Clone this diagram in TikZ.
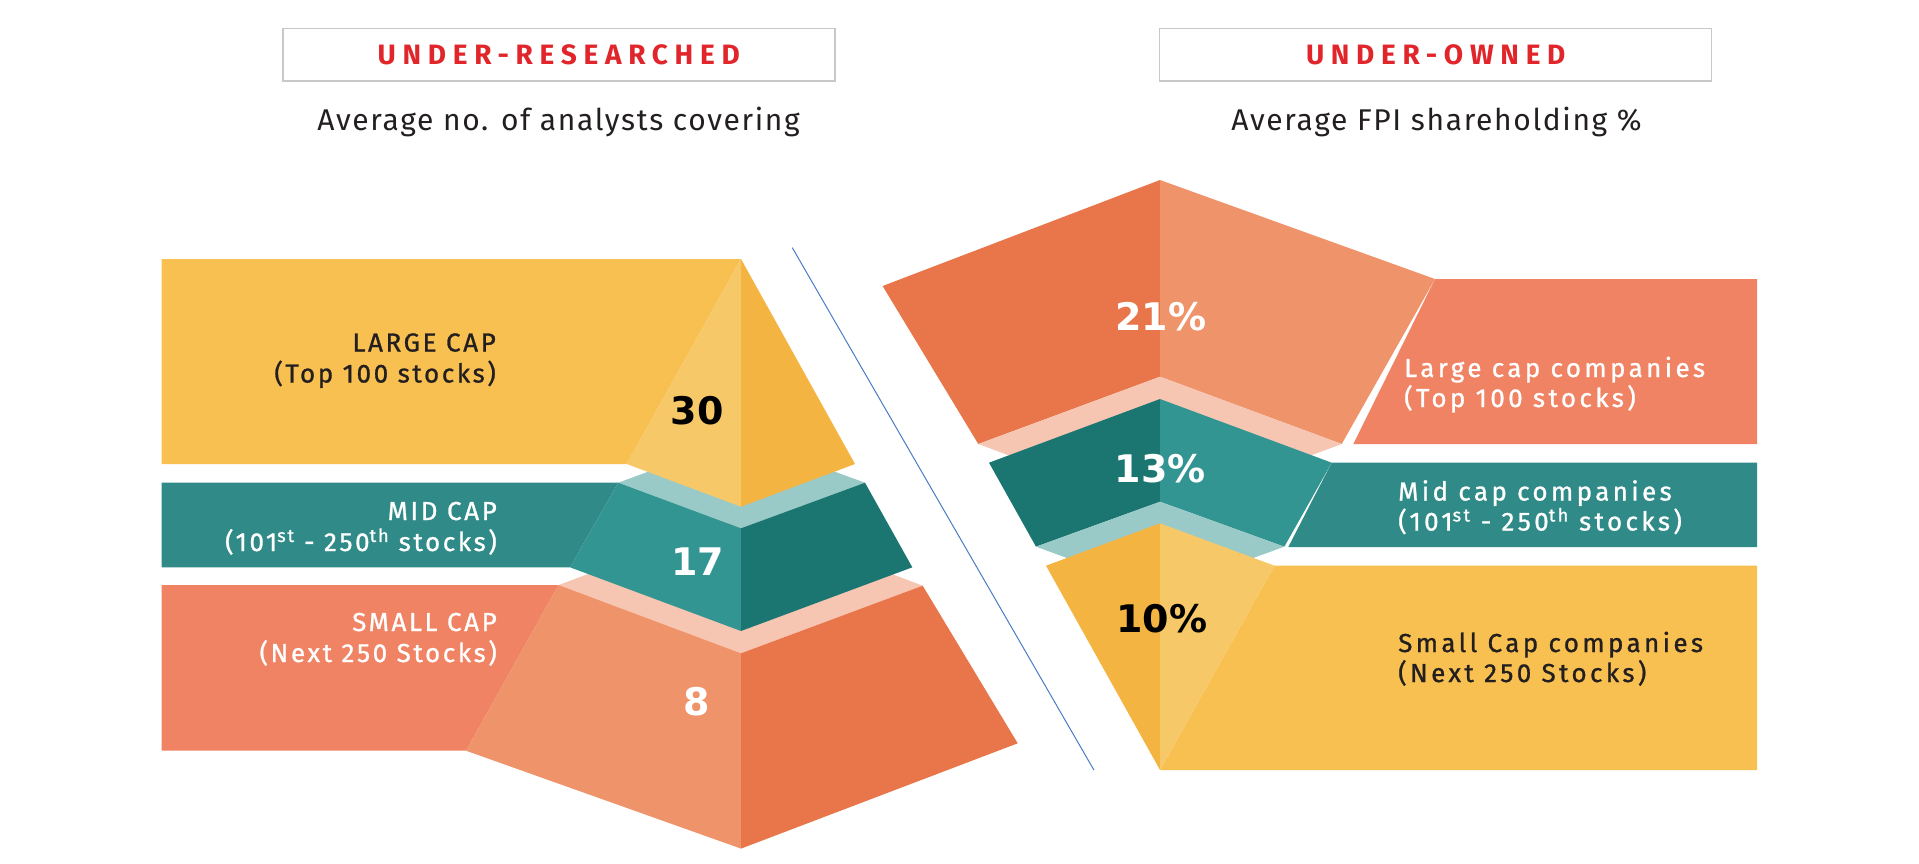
\documentclass[tikz,border=0pt]{standalone}
\usepackage{fontspec}
\setmainfont{Fira Sans}
\newfontfamily\numfont{DejaVu Sans}
\newfontfamily\hdfont[LetterSpace=24]{Fira Sans}
\newfontfamily\subfont[LetterSpace=5.5]{Fira Sans}
\newfontfamily\lblfont[LetterSpace=10,FakeBold=1]{Fira Sans}
\newfontfamily\lblwfont[LetterSpace=13,FakeBold=1]{Fira Sans}
\usetikzlibrary{calc}
\definecolor{ylw}{HTML}{F8C050}
\definecolor{ylwlt}{HTML}{F7C868}
\definecolor{ylwdk}{HTML}{F4B442}
\definecolor{tealbar}{HTML}{308A88}
\definecolor{teallt}{HTML}{339592}
\definecolor{tealdk}{HTML}{1B7672}
\definecolor{tealband}{HTML}{99CAC8}
\definecolor{salm}{HTML}{EF8364}
\definecolor{orlt}{HTML}{EF936B}
\definecolor{ordk}{HTML}{E8764A}
\definecolor{pinkband}{HTML}{F6C6B2}
\definecolor{hdred}{HTML}{E0262B}
\definecolor{boxgray}{HTML}{C8C8C8}
\definecolor{divblue}{HTML}{4A7CC4}
\definecolor{txtdk}{HTML}{231F20}

\begin{document}
\begin{tikzpicture}[x=1pt,y=-1pt,
  hdbox/.style={draw=boxgray,line width=1.5pt,minimum width=552pt,minimum height=52.7pt,inner sep=0pt,text=hdred,font=\hdfont\bfseries\fontsize{28}{32}\selectfont},
  subttl/.style={anchor=base,inner sep=0pt,text=txtdk,font=\subfont\fontsize{30}{34}\selectfont},
  lblleft/.style={anchor=base east,align=right,inner sep=0pt,font=\lblfont\fontsize{26}{31}\selectfont},
  lblright/.style={anchor=base west,align=left,inner sep=0pt,font=\lblwfont\fontsize{26}{30}\selectfont},
  num/.style={inner sep=0pt,font=\numfont\bfseries\fontsize{38}{40}\selectfont}]
\useasboundingbox (0,0) rectangle (1919,863);

% headers
\node[hdbox] (hdl) at (558.75,54.65) {UNDER-RESEARCHED};
\node[hdbox] (hdr) at (1435.7,54.65) {UNDER-OWNED};
\node[subttl] (subl) at (558.6,130) {Average no. of analysts covering};
\node[subttl] (subr) at (1436.5,130) {Average FPI shareholding \%};

% left pyramid
\foreach \yt/\xt/\yb/\xb/\col in {259/741/464/626.7/ylw, 482.7/618.3/567.3/570/tealbar, 585/558.6/750.7/466/salm}
  \fill[\col] (161.5,\yt) -- (\xt,\yt) -- (\xb,\yb) -- (161.5,\yb) -- cycle;
\fill[pinkband] (558.6,585) -- (741,517) -- (922.7,585.7) -- (741,653.3) -- cycle;
\fill[orlt] (558.6,585) -- (741,653.3) -- (741,848.6) -- (466,750.7) -- cycle;
\fill[ordk] (741,653.3) -- (922.7,585.7) -- (1017.7,743.3) -- (741,848.6) -- cycle;
\fill[tealband] (618.3,482.7) -- (741,437.5) -- (865,482.7) -- (741,528.3) -- cycle;
\fill[teallt] (618.3,482.7) -- (741,528.3) -- (741,631) -- (570,567.3) -- cycle;
\fill[tealdk] (741,528.3) -- (865,482.7) -- (912.3,567.3) -- (741,631) -- cycle;
\fill[ylwlt] (741,259) -- (741,506.7) -- (626.7,464) -- cycle;
\fill[ylwdk] (741,259) -- (855,464) -- (741,506.7) -- cycle;

% right pyramid
\fill[salm] (1435,279) -- (1757,279) -- (1757,444) -- (1353.3,444) -- cycle;
\fill[tealbar] (1331.7,462.7) -- (1757,462.7) -- (1757,547) -- (1288.3,547) -- cycle;
\fill[ylw] (1274.5,565.7) -- (1757,565.7) -- (1757,770) -- (1160,770) -- cycle;
\fill[ordk] (1160,180) -- (1160,376.7) -- (978.3,444) -- (882.6,286) -- cycle;
\fill[orlt] (1160,180) -- (1435,279) -- (1341.7,444) -- (1160,376.7) -- cycle;
\fill[pinkband] (978.3,444) -- (1160,376.7) -- (1341.7,444) -- (1160,511.3) -- cycle;
\fill[tealdk] (1160,399) -- (1160,501.7) -- (1036,546.7) -- (989,462.7) -- cycle;
\fill[teallt] (1160,399) -- (1331.7,462.7) -- (1284.3,546.7) -- (1160,501.7) -- cycle;
\fill[tealband] (1036,546.7) -- (1160,501.7) -- (1284.3,546.7) -- (1160,591.7) -- cycle;
\fill[ylwdk] (1160,523.3) -- (1160,770) -- (1046,565.7) -- cycle;
\fill[ylwlt] (1160,523.3) -- (1274.5,565.7) -- (1160,770) -- cycle;

% divider
\coordinate (divtop) at (792.3,247.7);
\coordinate (divbot) at (1093.9,770);
\draw[divblue,line width=1pt] (divtop) -- (divbot);

% left labels
\node[lblleft,text=txtdk] (lgl) at (496,382.5) {LARGE CAP\\(Top 100 stocks)};
\node[lblleft,text=white] (mdl) at (497,551) {MID CAP\\(101\textsuperscript{st} - 250\textsuperscript{th} stocks)};
\node[lblleft,text=white] (sml) at (497,662) {SMALL CAP\\(Next 250 Stocks)};
\node[num,text=black] (n30) at (697.3,410.5) {30};
\node[num,text=white] (n17) at (697.5,561.7) {17};
\node[num,text=white] (n8) at (696.4,702) {8};

% right labels
\node[lblright,text=white] (lgr) at (1404,407) {Large cap companies\\(Top 100 stocks)};
\node[lblright,text=white] (mdr) at (1398,530.5) {Mid cap companies\\(101\textsuperscript{st} - 250\textsuperscript{th} stocks)};
\node[lblright,text=txtdk] (smr) at (1398,682) {Small Cap companies\\(Next 250 Stocks)};
\node[num,text=white] (n21) at (1161,316.3) {21\%};
\node[num,text=white] (n13) at (1160.3,468.3) {13\%};
\node[num,text=black] (n10) at (1162,618.3) {10\%};
\end{tikzpicture}
\end{document}
